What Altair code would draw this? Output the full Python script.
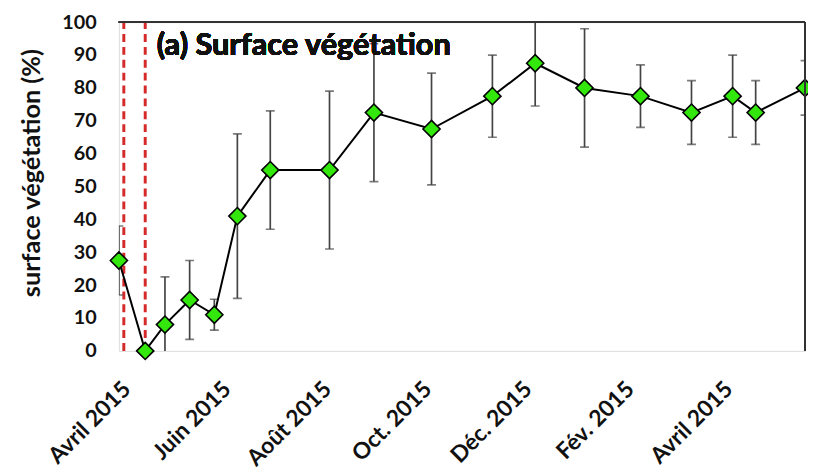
import altair as alt
import pandas as pd

# ---- data ----
dates = ["2015-04-01", "2015-04-17", "2015-04-29", "2015-05-14", "2015-05-29",
         "2015-06-12", "2015-07-02", "2015-08-07", "2015-09-03", "2015-10-08",
         "2015-11-14", "2015-12-10", "2016-01-09", "2016-02-12", "2016-03-14",
         "2016-04-08", "2016-04-22", "2016-05-22"]
values = [27.5, 0, 8, 15.5, 11, 41, 55, 55, 72.5, 67.5,
          77.5, 87.5, 80, 77.5, 72.5, 77.5, 72.5, 80]
errors = [10.5, 0, 14.5, 12, 4.7, 25, 18, 24, 21, 17,
          12.5, 13, 18, 9.5, 9.7, 12.5, 9.7, 8.3]
tick_dates = [(2015, 4), (2015, 6), (2015, 8), (2015, 10), (2015, 12), (2016, 2), (2016, 4)]
tick_labels = ["Avril 2015", "Juin 2015", "Août 2015", "Oct. 2015",
               "Déc. 2015", "Fév. 2015", "Avril 2015"]
event_dates = ["2015-04-04", "2015-04-17"]
y_ticks = [0, 10, 20, 30, 40, 50, 60, 70, 80, 90, 100]

df = pd.DataFrame({"date": dates, "value": values, "err": errors})
df["low"] = df["value"] - df["err"]
df["high"] = df["value"] + df["err"]
ev = pd.DataFrame({"date": event_dates})

FONT = "Lato"
label_arr = "[" + ",".join("'%s'" % t for t in tick_labels) + "]"
label_expr = label_arr + "[floor(((utcyear(datum.value)-2015)*12 + utcmonth(datum.value) - 3)/2)]"

xscale = alt.Scale(type="utc", nice=False)
x_axis = alt.Axis(
    values=[alt.DateTime(year=y, month=m, date=1, utc=True) for y, m in tick_dates],
    labelExpr=label_expr, labelAngle=-45, labelAlign="right", labelBaseline="top",
    labelPadding=27, ticks=False, domain=False, grid=False, title=None,
    labelOverlap=False, labelFontSize=23, labelFont=FONT, labelFontWeight="bold",
    labelColor="#111",
)
yscale = alt.Scale(domain=[0, 100], nice=False)
y_axis = alt.Axis(values=y_ticks, tickCount=11, ticks=False, domain=False, grid=False,
                  labelOverlap=False,
                  title="surface végétation (%)", titleFontSize=25.5, titleFont=FONT,
                  titleFontWeight="bold", titleColor="#111", titlePadding=17, titleY=152,
                  labelFontSize=20, labelFont=FONT, labelFontWeight="bold",
                  labelColor="#111", labelPadding=23)


def X(field="date:T"):
    return alt.X(field, scale=xscale, axis=x_axis)


def Y(field):
    return alt.Y(field, scale=yscale, axis=y_axis)


base = alt.Chart(df)
BAR = "#444444"

events = alt.Chart(ev).mark_rule(color="#d42a2a", strokeWidth=3, strokeDash=[8, 5]).encode(
    x=X(), y=Y("lo:Q"), y2=alt.Y2("hi:Q")).transform_calculate(lo="0", hi="100")

bars = base.mark_rule(color=BAR, strokeWidth=1.7, clip=True).encode(
    x=X(), y=Y("low:Q"), y2="high:Q")
caps_lo = base.mark_tick(orient="horizontal", size=9, thickness=1.7, color=BAR,
                         clip=True).encode(x=X(), y=Y("low:Q"))
caps_hi = base.mark_tick(orient="horizontal", size=9, thickness=1.7, color=BAR,
                         clip=True).encode(x=X(), y=Y("high:Q"))
line = base.mark_line(color="black", strokeWidth=2).encode(x=X(), y=Y("value:Q"))
points = base.mark_point(shape="diamond", filled=True, fill="#33e60c", stroke="black",
                         strokeWidth=1.6, size=300, opacity=1).encode(x=X(), y=Y("value:Q"))

title = alt.Chart(df).mark_text(text="(a) Surface végétation", align="left",
                                baseline="alphabetic", font=FONT, fontWeight="bold",
                                fontSize=31, color="#111").encode(
    x=alt.XDatum(alt.DateTime(year=2015, month=4, date=24, utc=True), type="temporal",
                 scale=xscale, axis=x_axis),
    y=alt.YDatum(90, type="quantitative", scale=yscale, axis=y_axis))

top_rule = alt.Chart(df).mark_rule(color="#333333", strokeWidth=1.5).encode(
    y=alt.YDatum(100, type="quantitative", scale=yscale, axis=y_axis))
right_rule = alt.Chart(df).mark_rule(color="#333333", strokeWidth=1.5).encode(
    x=alt.XDatum(alt.DateTime(year=2016, month=5, date=22, utc=True), type="temporal",
                 scale=xscale, axis=x_axis))

chart = alt.layer(events, bars, caps_lo, caps_hi, line, points, title, top_rule, right_rule).properties(
    width=693, height=332,
    autosize=alt.AutoSizeParams(type="none"),
    padding={"left": 112, "top": 12, "right": 3, "bottom": 120},
).configure_view(stroke="#c4c4c4", strokeWidth=1.5).configure(background="white")

chart.save("out.html", embed_options={"renderer": "svg", "actions": False})
